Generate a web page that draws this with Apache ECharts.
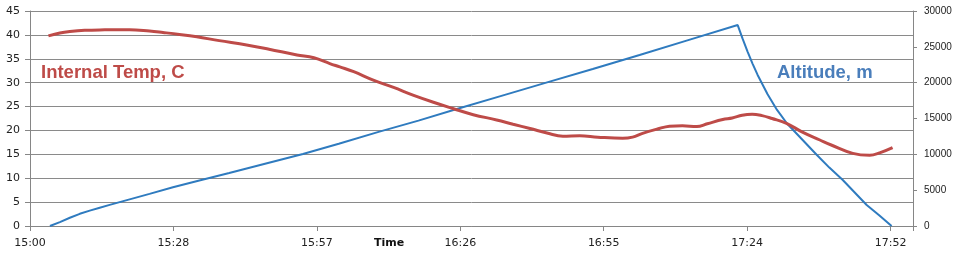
<!DOCTYPE html>
<html>
<head>
<meta charset="utf-8">
<script src="https://cdn.jsdelivr.net/npm/echarts@6/dist/echarts.min.js"></script>
<style>
html,body{margin:0;padding:0;background:#fff;}
#chart{width:960px;height:257px;}
</style>
</head>
<body>
<div id="chart"></div>
<script>
// minutes after 15:00
var xTickLabels = ['15:00','15:28','15:57','16:26','16:55','17:24','17:52'];
var tempMinutes = [3.7,6,8,11,15,20,24,26.7,30,33.5,38,43.5,48,53.6,57,60.2,62.2,65,68.8,73,76.9,81,84.9,89,93.7,97,100.4,104,107,110.4,114,119,121,123,126,128.4,131,133.9,136,139.1,141,143,145,147,149,151.9,155,158.6,161,165.2,168.6,170.6,173.2];
var tempValues  = [39.8,40.4,40.7,40.95,41.05,41.1,40.8,40.5,40.1,39.6,38.8,37.9,37.0,35.8,35.2,34.0,33.3,32.3,30.6,29.0,27.4,25.9,24.6,23.3,22.2,21.3,20.4,19.4,18.8,18.9,18.6,18.35,18.6,19.4,20.3,20.9,21.0,20.8,21.4,22.3,22.6,23.2,23.4,23.1,22.5,21.5,19.7,18.0,16.9,15.2,14.8,15.3,16.4];
var altMinutes = [4.0,6,8,10,12,14,16,20,24,28.7,34,40,47,54.8,62,70,78,85.7,95,104,113,122.4,132,142.1,143.1,144.1,145.1,146.1,148.1,150,152,155,158,160.5,163.2,165.5,168,170.5,173];
var altValues  = [0,550,1150,1700,2150,2550,2950,3720,4480,5400,6350,7400,8650,10040,11470,13130,14700,16320,18230,20080,21900,23850,25900,28040,26105,24300,22625,21080,18380,16200,14300,12100,9900,8150,6420,4750,2930,1500,0];
var tempLabel = 'Internal Temp, C';
var altLabel = 'Altitude, m';
var xName = 'Time';

function pairs(xs, ys){ return xs.map(function(x,i){ return [x, ys[i]]; }); }

var chart = echarts.init(document.getElementById('chart'), null, {renderer:'canvas'});
var axisGray = '#868686';
chart.setOption({
  animation:false,
  backgroundColor:'#ffffff',
  grid:{left:30,right:47,top:11,bottom:31,containLabel:false},
  xAxis:{
    type:'value', min:0, max:177.3, interval:28.8,
    axisLine:{show:true,lineStyle:{color:axisGray,width:1}},
    axisTick:{show:true,length:5,lineStyle:{color:axisGray}},
    splitLine:{show:false},
    axisLabel:{
      margin:12, color:'#222', fontFamily:'DejaVu Sans', fontSize:11,
      formatter:function(v){
        var k = v/28.8; var r = Math.round(k);
        if (Math.abs(k-r) > 1e-6) return '';
        return xTickLabels[r] || '';
      }
    }
  },
  yAxis:[{
    type:'value', min:0, max:45, interval:5, position:'left',
    axisLine:{show:true,lineStyle:{color:axisGray}},
    axisTick:{show:true,length:5,lineStyle:{color:axisGray}},
    splitLine:{show:true,lineStyle:{color:'#8a8a8a',width:1}},
    axisLabel:{margin:10,color:'#222',fontFamily:'DejaVu Sans',fontSize:11}
  },{
    type:'value', min:0, max:30000, interval:5000, position:'right',
    axisLine:{show:true,lineStyle:{color:axisGray}},
    axisTick:{show:true,length:4,lineStyle:{color:axisGray}},
    splitLine:{show:false},
    axisLabel:{margin:11,color:'#222',fontFamily:'Liberation Sans',fontSize:10,
      formatter:function(v){ return String(v); }}
  }],
  series:[{
    type:'line', yAxisIndex:1, data:pairs(altMinutes, altValues),
    showSymbol:false, smooth:false,
    lineStyle:{color:'#2F7BBF',width:2}, z:2
  },{
    type:'line', yAxisIndex:0, data:pairs(tempMinutes, tempValues),
    showSymbol:false, smooth:0.4,
    lineStyle:{color:'#BE4B48',width:3}, z:3
  }],
  graphic:[{
    type:'text', left:41, top:63,
    style:{text:tempLabel, fill:'#BE4B48', font:'bold 18.5px "Liberation Sans"'}
  },{
    type:'text', left:777, top:63,
    style:{text:altLabel, fill:'#4A7EBB', font:'bold 18.5px "Liberation Sans"'}
  },{
    type:'text', left:374, top:238,
    style:{text:xName, fill:'#111', font:'bold 11px "DejaVu Sans"'}
  }]
});
</script>
</body>
</html>
